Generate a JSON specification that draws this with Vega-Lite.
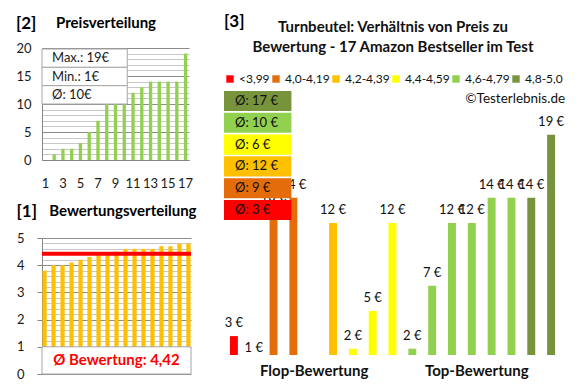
{
  "$schema": "https://vega.github.io/schema/vega-lite/v6.json",
  "padding": {"left": 15, "top": 13, "right": 10, "bottom": 4},
  "background": "white",
  "spacing": 27,
  "align": "none",
  "resolve": {"scale": {"color": "independent"}, "legend": {"color": "independent"}},
  "config": {
    "font": "Lato",
    "view": {"stroke": null},
    "axis": {"labelFontSize": 13, "labelColor": "#1a1a1a", "domainColor": "#868686"},
    "text": {"color": "#111"}
  },
  "datasets": {
    "preis": [
      {"pos": 1, "price": null}, {"pos": 2, "price": 1}, {"pos": 3, "price": 2}, {"pos": 4, "price": 2},
      {"pos": 5, "price": 3}, {"pos": 6, "price": 5}, {"pos": 7, "price": 7}, {"pos": 8, "price": 12},
      {"pos": 9, "price": 12}, {"pos": 10, "price": 12}, {"pos": 11, "price": 12}, {"pos": 12, "price": 13},
      {"pos": 13, "price": 14}, {"pos": 14, "price": 14}, {"pos": 15, "price": 14}, {"pos": 16, "price": 14},
      {"pos": 17, "price": 19}
    ],
    "stats": [
      {"stat": "Max.", "val": 19}, {"stat": "Min.", "val": 1}, {"stat": "Ø", "val": 10}
    ],
    "bewertung": [
      {"pos": 1, "rating": 3.8}, {"pos": 2, "rating": 4.0}, {"pos": 3, "rating": 4.0}, {"pos": 4, "rating": 4.1},
      {"pos": 5, "rating": 4.2}, {"pos": 6, "rating": 4.3}, {"pos": 7, "rating": 4.4}, {"pos": 8, "rating": 4.4},
      {"pos": 9, "rating": 4.5}, {"pos": 10, "rating": 4.6}, {"pos": 11, "rating": 4.6}, {"pos": 12, "rating": 4.6},
      {"pos": 13, "rating": 4.6}, {"pos": 14, "rating": 4.7}, {"pos": 15, "rating": 4.7}, {"pos": 16, "rating": 4.8},
      {"pos": 17, "rating": 4.8}
    ],
    "produkte": [
      {"slot": 1, "group": "<3,99", "price": 3},
      {"slot": 2, "group": "4,0-4,19", "price": 1},
      {"slot": 3, "group": "4,0-4,19", "price": 13},
      {"slot": 4, "group": "4,0-4,19", "price": 14},
      {"slot": 5, "group": "4,2-4,39", "price": null},
      {"slot": 6, "group": "4,2-4,39", "price": 12},
      {"slot": 7, "group": "4,4-4,59", "price": 2},
      {"slot": 8, "group": "4,4-4,59", "price": 5},
      {"slot": 9, "group": "4,4-4,59", "price": 12},
      {"slot": 10, "group": "4,6-4,79", "price": 2},
      {"slot": 11, "group": "4,6-4,79", "price": 7},
      {"slot": 12, "group": "4,6-4,79", "price": 12},
      {"slot": 13, "group": "4,6-4,79", "price": 12},
      {"slot": 14, "group": "4,6-4,79", "price": 14},
      {"slot": 15, "group": "4,6-4,79", "price": 14},
      {"slot": 16, "group": "4,8-5,0", "price": 14},
      {"slot": 17, "group": "4,8-5,0", "price": 19}
    ],
    "gruppen": [
      {"group": "4,8-5,0", "avg": 17},
      {"group": "4,6-4,79", "avg": 10},
      {"group": "4,4-4,59", "avg": 6},
      {"group": "4,2-4,39", "avg": 12},
      {"group": "4,0-4,19", "avg": 9},
      {"group": "<3,99", "avg": 3}
    ]
  },
  "hconcat": [
    {
      "spacing": 13,
      "align": "none",
      "vconcat": [
        {
          "title": {"text": "[2]", "subtitle": "\u200b\u00a0\u00a0\u00a0\u00a0\u00a0\u00a0\u00a0\u00a0\u00a0\u00a0\u00a0Preisverteilung", "anchor": "start", "fontSize": 17, "fontWeight": "bold", "color": "#000", "subtitleFontSize": 15, "subtitleFontWeight": "bold", "subtitleColor": "#000", "subtitlePadding": -17, "offset": 9},
          "width": 147,
          "height": 112,
          "layer": [
            {
              "data": {"name": "preis"},
              "mark": {"type": "bar", "color": "#92D050"},
              "encoding": {
                "x": {"field": "pos", "type": "ordinal",
                  "scale": {"domain": [1,2,3,4,5,6,7,8,9,10,11,12,13,14,15,16,17], "paddingInner": 0.62, "paddingOuter": 0.2},
                  "axis": {"title": null, "labelAngle": 0, "labelExpr": "datum.value % 2 === 1 ? datum.label : ''", "ticks": false, "labelPadding": 17}},
                "y": {"field": "price", "type": "quantitative",
                  "scale": {"domain": [0, 20], "nice": false},
                  "axis": {"title": null, "values": [0,1,2,3,4,5,6,7,8,9,10,11,12,13,14,15,16,17,18,19,20],
                    "labelExpr": "datum.value % 5 === 0 ? datum.label : ''", "grid": true, "labelOverlap": false,
                    "gridColor": {"condition": {"test": "datum.value % 5 === 0", "value": "#8c8c8c"}, "value": "#c8c8c8"},
                    "ticks": false, "labelPadding": 11}}
              }
            },
            {
              "data": {"name": "stats"},
              "transform": [{"calculate": "datum.stat + ': ' + datum.val + '€'", "as": "lbl"}],
              "encoding": {
                "y": {"field": "stat", "type": "nominal", "scale": {"domain": ["Max.", "Min.", "Ø"], "range": [1, 56], "paddingInner": 0, "paddingOuter": 0}, "axis": null}
              },
              "layer": [
                {"mark": {"type": "bar", "fill": "white", "stroke": "#a6a6a6", "strokeWidth": 1},
                 "encoding": {"x": {"datum": 0, "type": "quantitative", "scale": {"domain": [0, 1], "nice": false}, "axis": null}, "x2": {"datum": 0.58}}},
                {"mark": {"type": "text", "align": "left", "dx": 10, "fontSize": 13, "color": "#1a1a1a"},
                 "encoding": {"x": {"datum": 0, "type": "quantitative", "scale": {"domain": [0, 1], "nice": false}, "axis": null}, "text": {"field": "lbl"}}}
              ]
            }
          ],
          "resolve": {"scale": {"x": "independent", "y": "independent"}}
        },
        {
          "title": {"text": "[1]", "subtitle": "\u200b\u00a0\u00a0\u00a0\u00a0\u00a0\u00a0\u00a0\u00a0\u00a0Bewertungsverteilung", "anchor": "start", "fontSize": 17, "fontWeight": "bold", "color": "#000", "subtitleFontSize": 15, "subtitleFontWeight": "bold", "subtitleColor": "#000", "subtitlePadding": -17, "offset": 11},
          "width": 149,
          "height": 136,
          "layer": [
            {
              "data": {"name": "bewertung"},
              "mark": {"type": "bar", "color": "#FFC000"},
              "encoding": {
                "x": {"field": "pos", "type": "ordinal",
                  "scale": {"domain": [1,2,3,4,5,6,7,8,9,10,11,12,13,14,15,16,17], "paddingInner": 0.53, "paddingOuter": 0.05},
                  "axis": null},
                "y": {"field": "rating", "type": "quantitative",
                  "scale": {"domain": [0, 5], "nice": false},
                  "axis": {"title": null, "values": [0,0.2,0.4,0.6,0.8,1,1.2,1.4,1.6,1.8,2,2.2,2.4,2.6,2.8,3,3.2,3.4,3.6,3.8,4,4.2,4.4,4.6,4.8,5],
                    "labelExpr": "abs(datum.value - round(datum.value)) < 0.01 ? format(datum.value, 'd') : ''", "grid": true, "labelOverlap": false,
                    "gridColor": {"condition": {"test": "abs(datum.value - round(datum.value)) < 0.01", "value": "#8c8c8c"}, "value": "#c8c8c8"},
                    "tickColor": {"condition": {"test": "abs(datum.value - round(datum.value)) < 0.01", "value": "#868686"}, "value": "transparent"},
                    "tickSize": 5, "labelPadding": 13}}
              }
            },
            {
              "data": {"values": [{}]},
              "encoding": {
                "y": {"datum": 0, "type": "quantitative", "scale": {"domain": [0, 5], "nice": false}, "axis": null}
              },
              "layer": [
                {
                  "mark": {"type": "rule", "color": "#FF0000", "strokeWidth": 4},
                  "encoding": {"y": {"datum": 4.42, "type": "quantitative", "scale": {"domain": [0, 5], "nice": false}, "axis": null}}
                },
                {
                  "mark": {"type": "rect", "fill": "white", "stroke": "#a6a6a6", "strokeWidth": 1},
                  "encoding": {"y2": {"datum": 1}}
                },
                {
                  "mark": {"type": "text", "text": "Ø Bewertung: 4,42", "color": "#FF0000", "fontSize": 15, "fontWeight": "bold"},
                  "encoding": {"y": {"datum": 0.5, "type": "quantitative", "scale": {"domain": [0, 5], "nice": false}, "axis": null}}
                }
              ]
            }
          ],
          "resolve": {"scale": {"y": "independent"}}
        }
      ]
    },
    {
      "title": {"text": "[3]", "anchor": "start", "frame": "group", "fontSize": 17, "fontWeight": "bold", "color": "#000", "offset": 13, "dy": 24},
      "width": 337,
      "height": 307,
      "layer": [
        {
          "data": {"name": "produkte"},
          "layer": [
            {
              "mark": {"type": "bar", "clip": true},
              "encoding": {
                "x": {"field": "slot", "type": "ordinal",
                  "scale": {"domain": [1,2,3,4,5,6,7,8,9,10,11,12,13,14,15,16,17], "paddingInner": 0.6, "paddingOuter": 0.3},
                  "axis": {"title": null, "values": [5, 13], "labelExpr": "datum.value === 5 ? 'Flop-Bewertung' : 'Top-Bewertung'",
                    "ticks": false, "domain": false, "labelFontSize": 15, "labelFontWeight": "bold", "labelPadding": 8,
                    "labelAngle": 0, "labelColor": "#111", "labelOverlap": false, "labelBound": false,
                    "labelOffset": {"condition": {"test": "datum.value === 13", "value": 5}, "value": 1}}},
                "y": {"field": "price", "type": "quantitative", "scale": {"domain": [1.5, 25.9], "nice": false, "zero": false}, "axis": null},
                "color": {"field": "group", "type": "nominal",
                  "scale": {"domain": ["<3,99", "4,0-4,19", "4,2-4,39", "4,4-4,59", "4,6-4,79", "4,8-5,0"],
                            "range": ["#FF0000", "#E46C0A", "#FFC000", "#FFFF00", "#92D050", "#77933C"]},
                  "legend": {"orient": "none", "legendX": 0, "legendY": -28, "direction": "horizontal", "columns": 6,
                    "title": ["Turnbeutel: Verhältnis von Preis zu", "Bewertung - 17 Amazon Bestseller im Test"],
                    "titleAnchor": "middle", "titleAlign": "center", "titleFontSize": 15, "titleFontWeight": "bold",
                    "titleColor": "#111", "titleLimit": 600, "titlePadding": 18, "titleLineHeight": 20,
                    "symbolType": "square", "symbolSize": 55, "symbolStrokeWidth": 0,
                    "labelFontSize": 12, "labelColor": "#111", "labelOffset": 3, "columnPadding": 0}}
              }
            },
            {
              "transform": [{"filter": "datum.price != null"}, {"calculate": "datum.price + ' €'", "as": "lbl"}],
              "mark": {"type": "text", "dy": -13, "fontSize": 13, "color": "#111"},
              "encoding": {
                "x": {"field": "slot", "type": "ordinal"},
                "y": {"field": "price", "type": "quantitative"},
                "text": {"field": "lbl"}
              }
            },
            {
              "data": {"values": [{}]},
              "mark": {"type": "text", "text": "©Testerlebnis.de", "align": "right", "dx": 14, "fontSize": 13.5, "color": "#111"},
              "encoding": {"x": {"datum": 17, "type": "ordinal"}, "y": {"datum": 21.85, "type": "quantitative"}}
            }
          ]
        },
        {
          "data": {"name": "gruppen"},
          "transform": [{"calculate": "'Ø: ' + datum.avg + ' €'", "as": "lbl"}],
          "encoding": {
            "y": {"field": "group", "type": "nominal",
              "scale": {"domain": ["4,8-5,0", "4,6-4,79", "4,4-4,59", "4,2-4,39", "4,0-4,19", "<3,99"], "range": [43, 172], "paddingInner": 0.08, "paddingOuter": 0},
              "axis": null}
          },
          "layer": [
            {"mark": {"type": "bar"},
             "encoding": {"x": {"datum": 0, "type": "quantitative", "scale": {"domain": [0, 5], "nice": false}, "axis": null}, "x2": {"datum": 1},
                          "color": {"field": "group", "type": "nominal"}}},
            {"mark": {"type": "text", "align": "left", "dx": 11, "fontSize": 13, "color": "#111"},
             "encoding": {"x": {"datum": 0, "type": "quantitative", "scale": {"domain": [0, 5], "nice": false}, "axis": null}, "text": {"field": "lbl"}}}
          ]
        }
      ],
      "resolve": {"scale": {"x": "independent", "y": "independent"}}
    }
  ]
}
